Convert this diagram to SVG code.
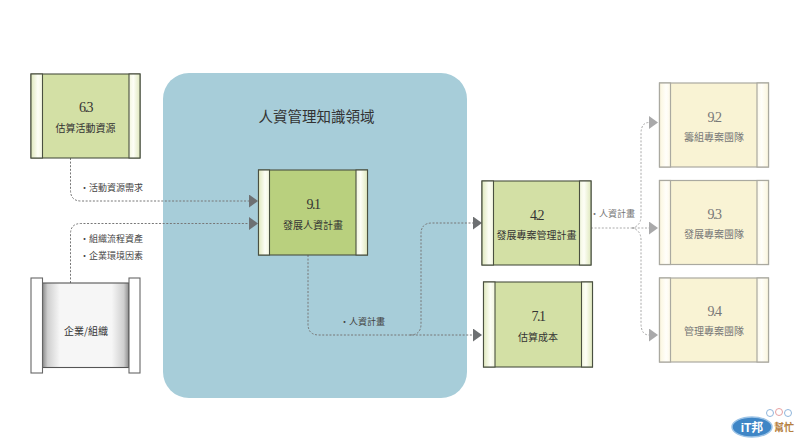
<svg xmlns="http://www.w3.org/2000/svg" width="800" height="445" viewBox="0 0 800 445">
<style>
text{font-family:"Noto Sans CJK TC","Liberation Serif",serif;text-anchor:middle;fill:#333}
.num{font-family:"Liberation Serif",serif;font-size:14px;letter-spacing:-1.5px}
.lab{font-size:10px}
.note{font-size:9px;text-anchor:start;fill:#444}
.box{stroke:#4a5040;stroke-width:1.1}
.fade{stroke:#aaa9a0;stroke-width:1.2}
.fade-t{fill:#777}
.con{fill:none;stroke:#777;stroke-width:1;stroke-dasharray:2 1.6}
.con-f{fill:none;stroke:#aaa;stroke-width:1;stroke-dasharray:2 1.6}
</style>
<defs>
<linearGradient id="g1"><stop offset="0" stop-color="#dfe8bd"/><stop offset="0.6" stop-color="#fdfef6"/><stop offset="1" stop-color="#f2f6de"/></linearGradient>
<linearGradient id="g2"><stop offset="0" stop-color="#f2f6de"/><stop offset="0.4" stop-color="#fdfef6"/><stop offset="1" stop-color="#dfe8bd"/></linearGradient>
<linearGradient id="g3"><stop offset="0" stop-color="#fbf6dd"/><stop offset="0.6" stop-color="#fffefa"/><stop offset="1" stop-color="#fdf9e8"/></linearGradient>
<linearGradient id="g4"><stop offset="0" stop-color="#fdf9e8"/><stop offset="0.4" stop-color="#fffefa"/><stop offset="1" stop-color="#fbf6dd"/></linearGradient>
<linearGradient id="g5"><stop offset="0" stop-color="#8a8a8a"/><stop offset="0.06" stop-color="#cfcfcf"/><stop offset="0.2" stop-color="#f6f6f6"/><stop offset="0.8" stop-color="#f6f6f6"/><stop offset="0.94" stop-color="#cfcfcf"/><stop offset="1" stop-color="#8a8a8a"/></linearGradient>
<marker id="a" markerUnits="userSpaceOnUse" markerWidth="9" markerHeight="13" refX="0" refY="6.5" orient="auto"><path d="M0 0L9 6.5L0 13Z" fill="#6d7072"/></marker>
<marker id="b" markerUnits="userSpaceOnUse" markerWidth="9" markerHeight="13" refX="0" refY="6.5" orient="auto"><path d="M0 0L9 6.5L0 13Z" fill="#a9a9aa"/></marker>
</defs>
<rect width="800" height="445" fill="#fff"/>
<g id="area">
<rect x="163" y="73" width="304" height="325" rx="26" fill="#a7cdd9"/>
<text x="316.500" y="122" font-size="14.500">人資管理知識領域</text>
</g>
<g id="connectors">
<path class="con" d="M70.500 158V190Q70.500 201 81 201H249" marker-end="url(#a)"/>
<path class="con" d="M70.500 283V234Q70.500 223.500 81 223.500H249" marker-end="url(#a)"/>
<path class="con" d="M308 255V324Q308 335 319 335H473" marker-end="url(#a)"/>
<path class="con" d="M410 335Q421 335 421 324V234Q421 223 432 223H473" marker-end="url(#a)"/>
<path class="con-f" d="M591 228H649" marker-end="url(#b)"/>
<path class="con-f" d="M632 228Q641 226 641 216V134Q641 122.500 649 122.500" marker-end="url(#b)"/>
<path class="con-f" d="M632 228Q641 230 641 240V323Q641 335 649 335" marker-end="url(#b)"/>
</g>
<g id="labels">
<text class="note" x="80" y="191">•活動資源需求</text>
<text class="note" x="80" y="242">•組織流程資產</text>
<text class="note" x="80" y="259">•企業環境因素</text>
<text class="note" x="340" y="325">•人資計畫</text>
<text class="note fade-t" x="590" y="217">•人資計畫</text>
</g>
<g id="n63">
<rect class="box" x="31" y="74" width="109" height="84" fill="#d3e0a5"/>
<rect class="box" x="31" y="74" width="11.500" height="84" fill="url(#g1)"/>
<rect class="box" x="129" y="74" width="11" height="84" fill="url(#g2)"/>
<text class="num" x="85.500" y="112">6.3</text><text class="lab" x="85.500" y="132">估算活動資源</text>
</g>
<g id="n91">
<rect class="box" x="258.500" y="170" width="109" height="85" fill="#b9d07e"/>
<rect class="box" x="258.500" y="170" width="11" height="85" fill="url(#g1)"/>
<rect class="box" x="356" y="170" width="11.500" height="85" fill="url(#g2)"/>
<text class="num" x="313" y="209">9.1</text><text class="lab" x="313" y="229">發展人資計畫</text>
</g>
<g id="n42">
<rect class="box" x="482" y="181" width="109" height="84" fill="#d3e0a5"/>
<rect class="box" x="482" y="181" width="11.500" height="84" fill="url(#g1)"/>
<rect class="box" x="579.500" y="181" width="11.500" height="84" fill="url(#g2)"/>
<text class="num" x="536.500" y="220">4.2</text><text class="lab" x="536.500" y="239">發展專案管理計畫</text>
</g>
<g id="n71">
<rect class="box" x="483.500" y="282" width="109" height="85" fill="#d3e0a5"/>
<rect class="box" x="483.500" y="282" width="11.500" height="85" fill="url(#g1)"/>
<rect class="box" x="581.500" y="282" width="11" height="85" fill="url(#g2)"/>
<text class="num" x="538" y="321">7.1</text><text class="lab" x="538" y="341">估算成本</text>
</g>
<g id="n92">
<rect class="fade" x="659.500" y="83" width="109" height="84" fill="#f9f3d4"/>
<rect class="fade" x="659.500" y="83" width="11" height="84" fill="url(#g3)"/>
<rect class="fade" x="757" y="83" width="11.500" height="84" fill="url(#g4)"/>
<text class="num fade-t" x="714" y="122">9.2</text><text class="lab fade-t" x="714" y="141">籌組專案團隊</text>
</g>
<g id="n93">
<rect class="fade" x="659.500" y="180.500" width="109" height="84" fill="#f9f3d4"/>
<rect class="fade" x="659.500" y="180.500" width="11" height="84" fill="url(#g3)"/>
<rect class="fade" x="757" y="180.500" width="11.500" height="84" fill="url(#g4)"/>
<text class="num fade-t" x="714" y="219">9.3</text><text class="lab fade-t" x="714" y="238">發展專案團隊</text>
</g>
<g id="n94">
<rect class="fade" x="659.500" y="278" width="109" height="84" fill="#f9f3d4"/>
<rect class="fade" x="659.500" y="278" width="11" height="84" fill="url(#g3)"/>
<rect class="fade" x="757" y="278" width="11.500" height="84" fill="url(#g4)"/>
<text class="num fade-t" x="714" y="316">9.4</text><text class="lab fade-t" x="714" y="335">管理專案團隊</text>
</g>
<g id="org">
<rect x="42.500" y="283" width="86.500" height="84.500" fill="url(#g5)" stroke="#555" stroke-width="1.100"/>
<rect x="31" y="278" width="11.500" height="95" fill="#fff" stroke="#666" stroke-width="1.100"/>
<rect x="129" y="278" width="11" height="95" fill="#fff" stroke="#666" stroke-width="1.100"/>
<text class="lab" x="86" y="335">企業/組織</text>
</g>
<g id="logo">
<circle cx="770" cy="413" r="3.500" fill="none" stroke="#8fb6dc"/>
<circle cx="779" cy="412" r="3.500" fill="none" stroke="#e6a0a0"/>
<circle cx="788" cy="413" r="3.500" fill="none" stroke="#8fb6dc"/>
<ellipse cx="752" cy="427" rx="20" ry="10" fill="#3f86c6" stroke="#9cc3e6" stroke-width="1.500"/>
<text x="752" y="431.500" font-size="12" font-weight="700" style="fill:#fff;font-family:'Liberation Sans','Noto Sans CJK TC',sans-serif">iT邦</text>
<text x="784" y="431" font-size="10" font-weight="700" style="fill:#b5803f">幫忙</text>
</g>
</svg>
